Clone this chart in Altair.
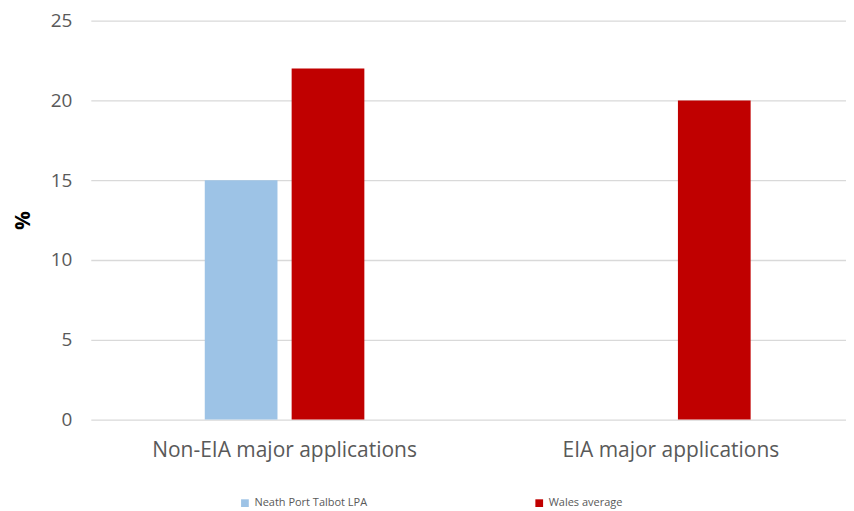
import altair as alt
import pandas as pd

categories = ["Non-EIA major applications", "EIA major applications"]
series = ["Neath Port Talbot LPA", "Wales average"]
npt_values = [15, 0]
wales_values = [22, 20]
colors = ["#9DC3E6", "#C00000"]

rows = []
for i, c in enumerate(categories):
    rows.append({"category": c, "series": series[0], "value": npt_values[i]})
    rows.append({"category": c, "series": series[1], "value": wales_values[i]})
df = pd.DataFrame(rows)

font = "Open Sans"

chart = alt.Chart(df).mark_bar().encode(
    x=alt.X("category:N", sort=categories,
            scale=alt.Scale(paddingInner=0.362, paddingOuter=0.1585, align=0.576),
            axis=alt.Axis(title=None, labelAngle=0, labelFontSize=21, labelColor="#595959",
                          labelFont=font, ticks=False, domain=False, labelPadding=20,
                          labelLimit=400)),
    xOffset=alt.XOffset("series:N", sort=series,
                        scale=alt.Scale(paddingInner=0.163, paddingOuter=0.5)),
    y=alt.Y("value:Q", scale=alt.Scale(domain=[0, 25]),
            axis=alt.Axis(title="%", titleFontSize=21, titleFont=font, titleFontWeight="bold",
                          titleColor="#000000", titlePadding=17,
                          values=[0, 5, 10, 15, 20, 25], labelFontSize=19, labelColor="#595959",
                          labelFont=font, ticks=False, domain=False, labelPadding=19,
                          gridColor="#D9D9D9", gridWidth=1.3)),
    color=alt.Color("series:N", sort=series,
                    scale=alt.Scale(domain=series, range=colors),
                    legend=alt.Legend(title=None, orient="none", legendX=149, legendY=478,
                                      direction="horizontal", symbolType="square",
                                      symbolSize=60, labelFontSize=11, labelFont=font,
                                      labelColor="#595959", columnPadding=167,
                                      symbolStrokeWidth=0)),
).properties(width=757, height=400, padding={"top": 3, "left": 4, "right": 0, "bottom": 0}
).configure_view(stroke=None)

chart.save("out.html", embed_options={"renderer": "svg", "actions": False})
